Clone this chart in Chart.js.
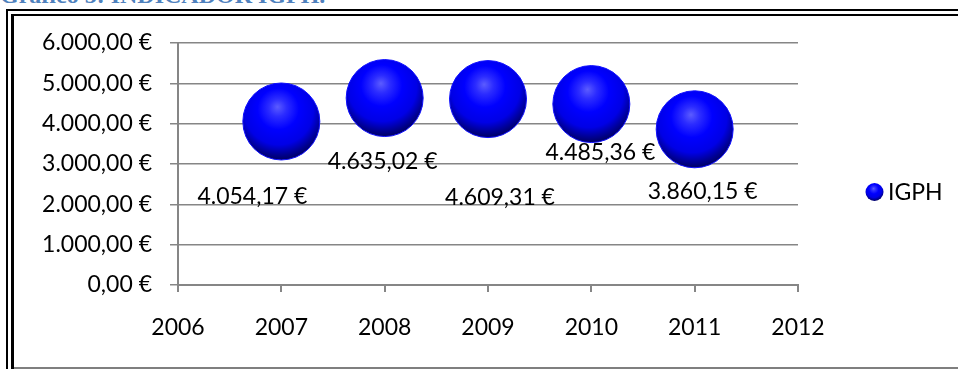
<!DOCTYPE html>
<html>
<head>
<meta charset="utf-8">
<script src="https://cdn.jsdelivr.net/npm/chart.js@4/dist/chart.umd.min.js"></script>
<style>
  html, body { margin: 0; padding: 0; background: #fff; }
  body { width: 958px; height: 369px; position: relative; overflow: hidden; }
  .title { position: absolute; left: 0; top: -18px; font: bold 24px "Liberation Serif", serif; color: #4f81bd; white-space: nowrap; }
  .frame-outer { position: absolute; left: 6px; top: 9px; right: -10px; bottom: -10px; border-left: 2.5px solid #000; border-top: 2px solid #000; }
  .frame-inner { position: absolute; left: 11px; top: 13.5px; right: -10px; bottom: -10px; border-left: 3px solid #000; border-top: 2.5px solid #000; }
  .frame-bottom { position: absolute; left: 14px; right: 0; top: 367px; height: 2px; background: #7f7f7f; }
  #igph-chart { position: absolute; left: 0; top: 0; }
</style>
</head>
<body>
<div class="title">Gráfico 5: INDICADOR IGPH.</div>
<div class="frame-outer"></div>
<div class="frame-inner"></div>
<div class="frame-bottom"></div>
<canvas id="igph-chart" width="958" height="369"></canvas>
<script>
// data
const years = [2007, 2008, 2009, 2010, 2011];
const igph = [4054.17, 4635.02, 4609.31, 4485.36, 3860.15];
const bubbleSize = [38.5, 38.5, 38.5, 38.5, 38.5];
const seriesName = 'IGPH';
const xRange = [2006, 2012];
const yRange = [0, 6000];
const yStep = 1000;

// where excel dropped each value label, relative to its bubble (px)
const labelShift = [[-29, 75], [-2, 64], [12, 98], [9, 48], [8, 62]];

const FONT = 'Lato, "Open Sans", sans-serif';
const FONT_SIZE = 23;
const GRID = '#868686';

function euro(v) {
    const [int, dec] = Math.abs(v).toFixed(2).split('.');
    const grouped = int.replace(/\B(?=(\d{3})+(?!\d))/g, '.');
    return (v < 0 ? '-' : '') + grouped + ',' + dec + ' €';
}

function sphere(ctx, x, y, r) {
    const g = ctx.createRadialGradient(x - r * 0.1, y - r * 0.38, 0, x - r * 0.05, y - r * 0.25, r * 1.28);
    g.addColorStop(0, '#5c5cff');
    g.addColorStop(0.18, '#2c2cff');
    g.addColorStop(0.42, '#0000ff');
    g.addColorStop(0.7, '#0000e6');
    g.addColorStop(0.86, '#00009a');
    g.addColorStop(1, '#00005a');
    return g;
}

const labelPlugin = {
    id: 'bubbleLabels',
    afterDatasetsDraw(chart) {
        const ctx = chart.ctx;
        const meta = chart.getDatasetMeta(0);
        ctx.save();
        ctx.font = FONT_SIZE + 'px ' + FONT;
        ctx.fillStyle = '#000';
        ctx.textAlign = 'center';
        ctx.textBaseline = 'middle';
        meta.data.forEach((pt, i) => {
            ctx.fillText(euro(igph[i]), pt.x + labelShift[i][0], pt.y + labelShift[i][1]);
        });

        // legend entry on the right
        const lx = 874.5, ly = 192, lr = 9;
        ctx.beginPath();
        ctx.arc(lx, ly, lr, 0, Math.PI * 2);
        ctx.fillStyle = sphere(ctx, lx, ly, lr);
        ctx.fill();
        ctx.fillStyle = '#000';
        ctx.textAlign = 'left';
        ctx.fillText(chart.data.datasets[0].label, 888, ly + 1);
        ctx.restore();
    }
};

new Chart(document.getElementById('igph-chart'), {
    type: 'bubble',
    data: {
        datasets: [{
            label: seriesName,
            data: years.map((y, i) => ({ x: y, y: igph[i], r: bubbleSize[i] })),
            backgroundColor: (c) => {
                const ch = c.chart;
                if (!ch.chartArea || c.raw == null) return '#0000ff';
                const x = ch.scales.x.getPixelForValue(c.raw.x);
                const y = ch.scales.y.getPixelForValue(c.raw.y);
                return sphere(ch.ctx, x, y, c.raw.r);
            },
            borderColor: '#1010ff',
            borderWidth: 1,
            clip: false,
        }],
    },
    options: {
        responsive: false,
        animation: false,
        layout: { padding: { left: 0, top: 43, right: 160, bottom: 0 } },
        plugins: {
            legend: { display: false },
            tooltip: { enabled: false },
        },
        scales: {
            x: {
                type: 'linear',
                min: xRange[0],
                max: xRange[1],
                afterFit: (s) => { s.height = 84; },
                ticks: {
                    stepSize: 1,
                    callback: (v) => String(v),
                    color: '#000',
                    font: { family: FONT, size: FONT_SIZE },
                    padding: 22,
                    maxRotation: 0,
                },
                grid: { drawOnChartArea: false, drawTicks: true, tickLength: 7, color: GRID, lineWidth: 2 },
                border: { color: GRID, width: 2 },
            },
            y: {
                min: yRange[0],
                max: yRange[1],
                afterFit: (s) => { s.width = 178; },
                ticks: {
                    stepSize: yStep,
                    callback: (v) => euro(v),
                    color: '#000',
                    font: { family: FONT, size: FONT_SIZE },
                    padding: 18,
                },
                grid: { color: GRID, lineWidth: 1.5, tickLength: 8 },
                border: { color: GRID, width: 2 },
            },
        },
    },
    plugins: [labelPlugin],
});
</script>
</body>
</html>
